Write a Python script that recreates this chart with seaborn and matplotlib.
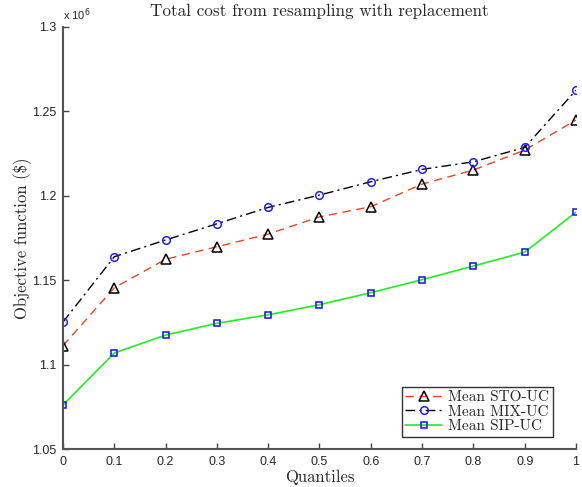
import numpy as np
import pandas as pd
import matplotlib
matplotlib.use("Agg")
import matplotlib.pyplot as plt
import seaborn as sns

# quantiles and objective values (x 10^6)
quantiles = [0.0, 0.1, 0.2, 0.3, 0.4, 0.5, 0.6, 0.7, 0.8, 0.9, 1.0]
sto_uc = [1.1113, 1.1456, 1.1625, 1.1699, 1.1774, 1.1876, 1.1936, 1.2070, 1.2153, 1.2271, 1.2449]
mix_uc = [1.1253, 1.1640, 1.1739, 1.1835, 1.1932, 1.2005, 1.2084, 1.2157, 1.2202, 1.2287, 1.2626]
sip_uc = [1.0762, 1.1070, 1.1176, 1.1246, 1.1296, 1.1356, 1.1427, 1.1504, 1.1585, 1.1667, 1.1904]

xtick_labels = ["0", "0.1", "0.2", "0.3", "0.4", "0.5", "0.6", "0.7", "0.8", "0.9", "1"]
yticks = [1.05, 1.1, 1.15, 1.2, 1.25, 1.3]
ytick_labels = ["1.05", "1.1", "1.15", "1.2", "1.25", "1.3"]

sns.set_style("ticks")
plt.rcParams["font.family"] = ["Liberation Sans", "DejaVu Sans"]
serif = ["cmr10", "DejaVu Serif"]

fig = plt.figure(figsize=(5.82, 4.87), dpi=100)
ax = fig.add_axes([0.1082, 0.0774, 0.8815, 0.8672])

df = pd.DataFrame({"q": quantiles, "sto": sto_uc, "mix": mix_uc, "sip": sip_uc})

sns.lineplot(data=df, x="q", y="sto", ax=ax, color="#e8461e", linestyle=(0, (6, 4)),
             lw=1, marker="^", markersize=7, markerfacecolor="none",
             markeredgecolor="black", markeredgewidth=1.1, label="Mean STO-UC")
sns.lineplot(data=df, x="q", y="mix", ax=ax, color="black", linestyle=(0, (7, 3, 1.5, 3)),
             lw=1, marker="o", markersize=5.5, markerfacecolor="none",
             markeredgecolor="#1f1fff", markeredgewidth=1.1, label="Mean MIX-UC")
sns.lineplot(data=df, x="q", y="sip", ax=ax, color="#22ee22", linestyle="-",
             lw=1.2, marker="s", markersize=5, markerfacecolor="none",
             markeredgecolor="#1010ee", markeredgewidth=1.1, label="Mean SIP-UC")

ax.set_xlim(0, 1)
ax.set_ylim(1.05, 1.3)
ax.set_xticks(quantiles)
ax.set_xticklabels(xtick_labels, fontsize=9)
ax.set_yticks(yticks)
ax.set_yticklabels(ytick_labels, fontsize=9)
ax.tick_params(direction="in", length=4, width=1, color="#444444", pad=5)

for side in ["top", "right"]:
    ax.spines[side].set_visible(False)
for side in ["left", "bottom"]:
    ax.spines[side].set_color("#555555")
    ax.spines[side].set_linewidth(1.5)

ax.set_xlabel("Quantiles", fontsize=12, family=serif, labelpad=1)
ax.set_ylabel("Objective function (\\$)", fontsize=12, family=serif, labelpad=0)
ax.set_title("Total cost from resampling with replacement", fontsize=12.3,
             family=serif, pad=8)
ax.text(0.0, 1.01, r"x 10$^6$", transform=ax.transAxes, fontsize=8, ha="left", va="bottom")

leg = ax.legend(loc="lower right", bbox_to_anchor=(0.955, 0.029), frameon=True,
                fancybox=False, edgecolor="black", handlelength=2.4,
                prop={"family": serif, "size": 11}, borderpad=0.25, labelspacing=0.05,
                handletextpad=0.4, borderaxespad=0)
leg.get_frame().set_linewidth(1)

fig.savefig("out.png", dpi=100)
